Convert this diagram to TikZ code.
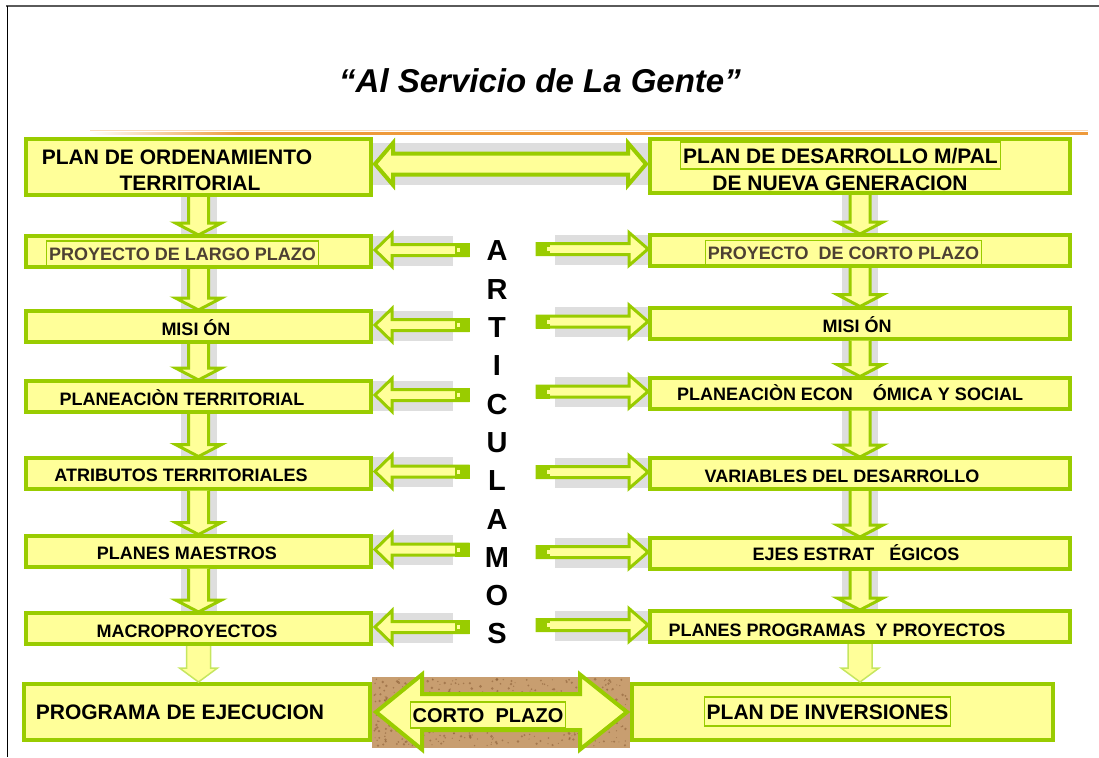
\documentclass[tikz,border=0pt]{standalone}
\usepackage{fontspec}
\setmainfont{Liberation Sans}
\usepackage{tikz}
\usetikzlibrary{calc, positioning}
\definecolor{boxgreen}{RGB}{153,204,0}
\definecolor{boxyellow}{RGB}{255,255,153}
\definecolor{softgreen}{RGB}{198,230,95}
\definecolor{marble}{RGB}{222,222,222}
\definecolor{cork}{RGB}{200,158,112}
\definecolor{corkdark}{RGB}{140,96,56}
\definecolor{proybrown}{RGB}{77,64,51}
\definecolor{rulegold}{RGB}{238,154,58}
\definecolor{rulepeach}{RGB}{250,218,185}
\definecolor{framegrey}{RGB}{90,90,90}
\tikzset{
x=1pt, y=-1pt, % one unit is one pixel, y runs downwards
planbox/.style={draw=boxgreen, line width=4pt, fill=boxyellow, minimum width=345pt, minimum height=31pt, inner sep=0pt}, % yellow boxes of both columns
widebox/.style={planbox, minimum width=420pt}, % right column is wider
tallbox/.style={minimum height=56pt}, % first and last row
blockarrow/.style={draw=boxgreen, line width=3pt, fill=boxyellow, line join=miter}, % hollow block arrows
rowtext/.style={font=\bfseries\fontsize{18}{21}\selectfont, text height=13pt, text depth=0pt, inner sep=0pt},
bigtext/.style={font=\bfseries\fontsize{21}{25}\selectfont, text height=15pt, text depth=0pt, inner sep=0pt},
framed/.style={draw=boxgreen, line width=1.2pt, inner xsep=2.5pt, inner ysep=6pt}, % thin frame round some labels
artletter/.style={font=\bfseries\fontsize{29}{33}\selectfont, inner sep=0pt},
}
% block arrow down between two boxes of one column
\newcommand{\downblock}[2]{%
  \coordinate (dtop) at (#1.south);
  \coordinate (dbot) at (#1.south |- #2.north);
  \fill[marble] ($(dtop)+(-18,0)$) rectangle ($(dbot)+(18,0)$);
  \draw[blockarrow] ($(dtop)+(-10,0)$) -- ($(dbot)+(-10,-11)$) -- ($(dbot)+(-23,-11)$) -- ($(dbot)+(0,1)$)
    -- ($(dbot)+(23,-11)$) -- ($(dbot)+(10,-11)$) -- ($(dtop)+(10,0)$);
}
% last, plain arrow down
\newcommand{\softdown}[2]{%
  \coordinate (stop) at (#1.south);
  \coordinate (sbot) at (#1.south |- #2.north);
  \draw[blockarrow, draw=softgreen, line width=1.5pt] ($(stop)+(-12,0)$) -- ($(sbot)+(-12,-14)$) -- ($(sbot)+(-19,-14)$)
    -- ($(sbot)+(0,0)$) -- ($(sbot)+(19,-14)$) -- ($(sbot)+(12,-14)$) -- ($(stop)+(12,0)$);
}
% arrow pointing into a left box
\newcommand{\leftblock}[1]{%
  \coordinate (e) at (#1.east);
  \fill[marble] ($(e)+(0,-16)$) rectangle ($(e)+(80,14)$);
  \draw[blockarrow] ($(e)+(2,-1.5)$) -- ($(e)+(19,-18)$) -- ($(e)+(19,-7)$) -- ($(e)+(95,-7)$)
    -- ($(e)+(95,4)$) -- ($(e)+(19,4)$) -- ($(e)+(19,15)$) -- cycle;
  \fill[boxgreen] ($(e)+(82,-8.5)$) rectangle ($(e)+(96.5,5.5)$);
  \fill[boxyellow] ($(e)+(84,-3.5)$) rectangle ($(e)+(87,0.5)$);
}
% arrow pointing into a right box
\newcommand{\rightblock}[1]{%
  \coordinate (w) at (#1.west);
  \fill[marble] ($(w)+(-93,-16)$) rectangle ($(w)+(0,14)$);
  \draw[blockarrow] ($(w)+(0,-1.5)$) -- ($(w)+(-19,-18)$) -- ($(w)+(-19,-7)$) -- ($(w)+(-111,-7)$)
    -- ($(w)+(-111,4)$) -- ($(w)+(-19,4)$) -- ($(w)+(-19,15)$) -- cycle;
  \fill[boxgreen] ($(w)+(-112.5,-8.5)$) rectangle ($(w)+(-98,5.5)$);
  \fill[boxyellow] ($(w)+(-101,-3.5)$) rectangle ($(w)+(-98,0.5)$);
}
\begin{document}
\begin{tikzpicture}
\useasboundingbox (0,0) rectangle (1099,757);
% frame and rule under the title
\draw[framegrey, line width=2pt] (6,6) -- (1099,6);
\draw[line width=1pt] (7,6) -- (7,757);
\fill[rulepeach] (90,130) rectangle (1088,131.3);
\shade[left color=white, right color=rulegold] (90,132) rectangle (240,134.5);
\fill[rulegold] (240,132) rectangle (1088,134.5);
\node[font=\bfseries\itshape\fontsize{33}{39}\selectfont, anchor=base] (title) at (540,93) {“Al Servicio de La Gente”};

% left column
\node[planbox, tallbox] (l1) at (198.5,167) {};
\node[planbox] (l2) at (198.5,251.5) {};
\node[planbox] (l3) at (198.5,326.5) {};
\node[planbox] (l4) at (198.5,396.5) {};
\node[planbox] (l5) at (198.5,473) {};
\node[planbox] (l6) at (198.5,551) {};
\node[planbox] (l7) at (198.5,628.5) {};
\node[planbox, tallbox, minimum width=346pt] (l8) at (197,712) {};
% right column
\node[widebox, tallbox, minimum height=54pt] (r1) at (860,166) {};
\node[widebox] (r2) at (860,250.5) {};
\node[widebox] (r3) at (860,323) {};
\node[widebox] (r4) at (860,393) {};
\node[widebox] (r5) at (860,473.5) {};
\node[widebox] (r6) at (860,553.5) {};
\node[widebox] (r7) at (860,626.5) {};
\node[widebox, tallbox, minimum width=421pt] (r8) at (842.5,712) {};

% arrows down each column
\foreach \a/\b in {1/2,2/3,3/4,4/5,5/6,6/7}{
  \downblock{l\a}{l\b}
  \downblock{r\a}{r\b}
}
\softdown{l7}{l8}
\softdown{r7}{r8}
% arrows from the middle to both columns
\foreach \row in {2,...,7}{
  \leftblock{l\row}
  \rightblock{r\row}
}
% double arrow on top
\fill[marble] ($(l1.east)+(0,-24)$) rectangle ($(r1.west)+(0,19)$);
\coordinate (dl) at ($(l1.east)+(2,-3)$);
\coordinate (dr) at ($(r1.west)+(-2,-2)$);
\draw[blockarrow, line width=4pt] (dl) -- ($(dl)+(18,-21)$) -- ($(dl)+(18,-10.5)$) -- ($(dr)+(-18,-10.5)$)
  -- ($(dr)+(-18,-21)$) -- (dr) -- ($(dr)+(-18,21)$) -- ($(dr)+(-18,10.5)$) -- ($(dl)+(18,10.5)$)
  -- ($(dl)+(18,21)$) -- cycle;
% double arrow at the bottom, on cork
\fill[cork] ($(l8.east)+(0,-35)$) rectangle ($(r8.west)+(0,36)$);
\pgfmathsetseed{11}
\foreach \k in {1,...,520}{
  \fill[corkdark, opacity=0.6] ({374+254*rnd},{679+67*rnd}) circle ({0.5+1.0*rnd});
}
\coordinate (cl) at ($(l8.east)+(4,0)$);
\coordinate (cr) at ($(r8.west)+(-3,0)$);
\draw[blockarrow, line width=4pt] (cl) -- ($(cl)+(46,-37.5)$) -- ($(cl)+(46,-18)$) -- ($(cr)+(-47,-18)$)
  -- ($(cr)+(-47,-37.5)$) -- (cr) -- ($(cr)+(-47,37.5)$) -- ($(cr)+(-47,18)$) -- ($(cl)+(46,18)$)
  -- ($(cl)+(46,37.5)$) -- cycle;

% labels
\node[bigtext] (l1a) at (177,156.5) {PLAN DE ORDENAMIENTO};
\node[bigtext] (l1b) at (190,183) {TERRITORIAL};
\node[rowtext, framed, text=proybrown] (l2t) at (182.5,253.5) {PROYECTO DE LARGO PLAZO};
\node[rowtext] (l3t) at (196,329) {MISI ÓN};
\node[rowtext] (l4t) at (182,398.5) {PLANEACIÒN TERRITORIAL};
\node[rowtext] (l5t) at (181,475) {ATRIBUTOS TERRITORIALES};
\node[rowtext] (l6t) at (187,553) {PLANES MAESTROS};
\node[rowtext] (l7t) at (187,630.5) {MACROPROYECTOS};
\node[bigtext] (l8t) at (180,712) {PROGRAMA DE EJECUCION};
\node[bigtext, framed] (r1a) at (840.5,155.5) {PLAN DE DESARROLLO M/PAL};
\node[bigtext] (r1b) at (840,183) {DE NUEVA GENERACION};
\node[rowtext, framed, text=proybrown] (r2t) at (843.5,253) {PROYECTO\ \ DE CORTO PLAZO};
\node[rowtext] (r3t) at (857,326) {MISI ÓN};
\node[rowtext] (r4t) at (850,394) {PLANEACIÒN ECON\hspace{20pt}ÓMICA Y SOCIAL};
\node[rowtext] (r5t) at (842,475.5) {VARIABLES DEL DESARROLLO};
\node[rowtext] (r6t) at (856,553.5) {EJES ESTRAT\hspace{15pt}ÉGICOS};
\node[rowtext] (r7t) at (837,630) {PLANES PROGRAMAS\ \ Y PROYECTOS};
\node[bigtext, framed, inner ysep=7pt] (r8t) at (827.5,711.5) {PLAN DE INVERSIONES};
\node[framed, font=\bfseries\fontsize{20}{24}\selectfont, text height=14pt, text depth=0pt, inner xsep=2pt] (cpt) at (488,715) {CORTO\ \ PLAZO};
% vertical word
\foreach \ch [count=\i from 0] in {A,R,T,I,C,U,L,A,M,O,S}
  \node[artletter] (art\i) at (497,{251+38.3*\i}) {\ch};
\end{tikzpicture}
\end{document}
